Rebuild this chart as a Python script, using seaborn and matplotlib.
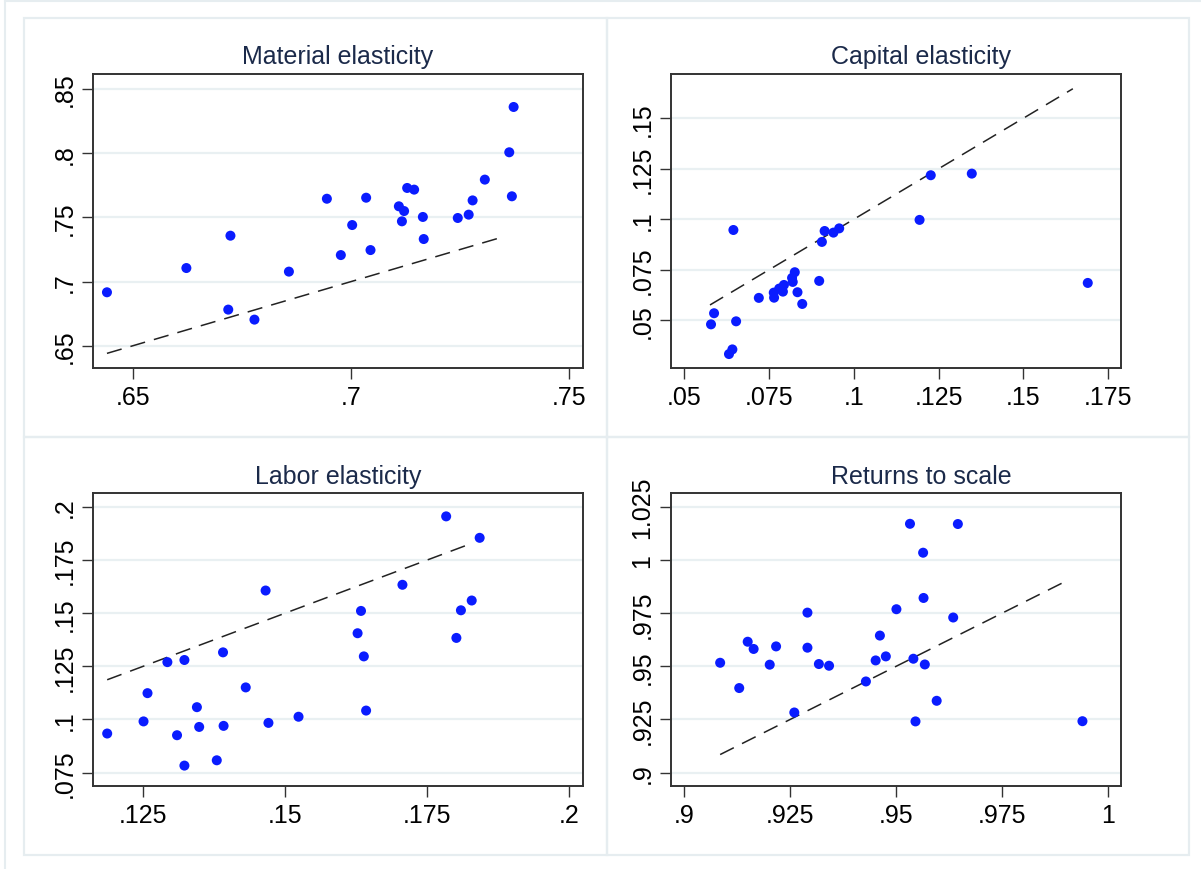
import matplotlib
matplotlib.use("Agg")
import matplotlib.pyplot as plt
from matplotlib.lines import Line2D
from matplotlib.patches import Rectangle
import pandas as pd
import seaborn as sns

# ---- data: estimated (x) vs. reference (y) elasticities by industry ----
material_x = [0.6440, 0.6622, 0.6723, 0.6718, 0.6778, 0.6857, 0.6944, 0.6976, 0.7002,
              0.7034, 0.7044, 0.7109, 0.7121, 0.7116, 0.7128, 0.7144, 0.7164, 0.7166,
              0.7244, 0.7269, 0.7278, 0.7306, 0.7362, 0.7368, 0.7372]
material_y = [0.6916, 0.7105, 0.7357, 0.6781, 0.6703, 0.7077, 0.7645, 0.7206, 0.7440,
              0.7653, 0.7245, 0.7586, 0.7549, 0.7469, 0.7729, 0.7716, 0.7503, 0.7331,
              0.7495, 0.7521, 0.7632, 0.7794, 0.8007, 0.7664, 0.8360]
material_diag = [0.6440, 0.7336]

capital_x = [0.0579, 0.0588, 0.0632, 0.0642, 0.0645, 0.0653, 0.0720, 0.0765, 0.0764,
             0.0780, 0.0791, 0.0794, 0.0818, 0.0820, 0.0826, 0.0834, 0.0848, 0.0898,
             0.0906, 0.0914, 0.0940, 0.0957, 0.1194, 0.1227, 0.1348, 0.1690]
capital_y = [0.0480, 0.0535, 0.0333, 0.0356, 0.0947, 0.0495, 0.0611, 0.0612, 0.0637,
             0.0657, 0.0642, 0.0675, 0.0710, 0.0690, 0.0738, 0.0639, 0.0581, 0.0695,
             0.0888, 0.0942, 0.0934, 0.0955, 0.0997, 0.1218, 0.1226, 0.0685]
capital_diag = [0.0576, 0.1646]

labor_x = [0.1187, 0.1251, 0.1258, 0.1293, 0.1310, 0.1323, 0.1323, 0.1345, 0.1349,
           0.1380, 0.1391, 0.1392, 0.1431, 0.1466, 0.1471, 0.1524, 0.1628, 0.1634,
           0.1639, 0.1643, 0.1707, 0.1784, 0.1802, 0.1810, 0.1829, 0.1843]
labor_y = [0.0934, 0.0991, 0.1124, 0.1270, 0.0926, 0.1280, 0.0783, 0.1058, 0.0965,
           0.0808, 0.1316, 0.0970, 0.1151, 0.1607, 0.0984, 0.1013, 0.1406, 0.1511,
           0.1297, 0.1042, 0.1634, 0.1956, 0.1384, 0.1514, 0.1560, 0.1855]
labor_diag = [0.1187, 0.1818]

rts_x = [0.9085, 0.9130, 0.9150, 0.9164, 0.9202, 0.9217, 0.9260, 0.9291, 0.9291,
         0.9318, 0.9342, 0.9429, 0.9452, 0.9462, 0.9476, 0.9501, 0.9533, 0.9541,
         0.9546, 0.9564, 0.9565, 0.9568, 0.9596, 0.9635, 0.9646, 0.9940]
rts_y = [0.9517, 0.9398, 0.9616, 0.9582, 0.9508, 0.9594, 0.9283, 0.9753, 0.9588,
         0.9511, 0.9503, 0.9429, 0.9528, 0.9645, 0.9547, 0.9769, 1.0171, 0.9536,
         0.9241, 1.0035, 0.9822, 0.9509, 0.9338, 0.9730, 1.0170, 0.9242]
rts_diag = [0.9085, 0.9895]

titles = ["Material elasticity", "Capital elasticity", "Labor elasticity", "Returns to scale"]

material_xticks = [0.65, 0.70, 0.75]
material_xlabels = [".65", ".7", ".75"]
material_yticks = [0.65, 0.70, 0.75, 0.80, 0.85]
material_ylabels = [".65", ".7", ".75", ".8", ".85"]

capital_xticks = [0.05, 0.075, 0.10, 0.125, 0.15, 0.175]
capital_xlabels = [".05", ".075", ".1", ".125", ".15", ".175"]
capital_yticks = [0.05, 0.075, 0.10, 0.125, 0.15]
capital_ylabels = [".05", ".075", ".1", ".125", ".15"]

labor_xticks = [0.125, 0.15, 0.175, 0.20]
labor_xlabels = [".125", ".15", ".175", ".2"]
labor_yticks = [0.075, 0.10, 0.125, 0.15, 0.175, 0.20]
labor_ylabels = [".075", ".1", ".125", ".15", ".175", ".2"]

rts_xticks = [0.90, 0.925, 0.95, 0.975, 1.0]
rts_xlabels = [".9", ".925", ".95", ".975", "1"]
rts_yticks = [0.90, 0.925, 0.95, 0.975, 1.0, 1.025]
rts_ylabels = [".9", ".925", ".95", ".975", "1", "1.025"]

# ---- style ----
sns.set_theme(style="white")
plt.rcParams["font.family"] = ["Liberation Sans", "DejaVu Sans"]

W, H = 1201, 870
fig = plt.figure(figsize=(W / 100, H / 100), dpi=100)
fig.patch.set_facecolor("white")

FRAME = "#e6edf0"
GRID = "#e9f0f2"
DOT = "#0a1cff"
TITLE = "#1b2a4a"


def px_rect(l, t, r, b):
    return [l / W, 1 - b / H, (r - l) / W, (b - t) / H]


# light outlines of the graph regions
fig.add_artist(Line2D([5 / W, 5 / W], [0, 1], color=FRAME, lw=1.5, transform=fig.transFigure))
fig.add_artist(Line2D([5 / W, 1], [1 - 1.5 / H, 1 - 1.5 / H], color=FRAME, lw=1.5,
                      transform=fig.transFigure))
for (l, t, r, b) in [(24, 19, 607, 438), (607, 19, 1189, 438),
                     (24, 438, 607, 856), (607, 438, 1189, 856)]:
    fig.add_artist(Rectangle((l / W, 1 - b / H), (r - l) / W, (b - t) / H,
                             fill=False, edgecolor=FRAME, lw=1.6,
                             transform=fig.transFigure))

panels = [
    (material_x, material_y, material_diag, material_xticks, material_xlabels,
     material_yticks, material_ylabels, (0.6408, 0.7531), (0.6326, 0.8617),
     (93, 75, 583, 369), (338, 57)),
    (capital_x, capital_y, capital_diag, capital_xticks, capital_xlabels,
     capital_yticks, capital_ylabels, (0.0461, 0.1788), (0.0264, 0.1719),
     (671, 75, 1121, 369), (921, 57)),
    (labor_x, labor_y, labor_diag, labor_xticks, labor_xlabels,
     labor_yticks, labor_ylabels, (0.1162, 0.2025), (0.0687, 0.2066),
     (93, 494, 583, 787), (338, 477)),
    (rts_x, rts_y, rts_diag, rts_xticks, rts_xlabels,
     rts_yticks, rts_ylabels, (0.8969, 1.0031), (0.8937, 1.0316),
     (671, 494, 1121, 787), (921, 477)),
]

for title, (xs, ys, diag, xt, xl, yt, yl, xlim, ylim, box, tpos) in zip(titles, panels):
    ax = fig.add_axes(px_rect(*box))
    ax.set_facecolor("white")
    for yv in yt:
        ax.axhline(yv, color=GRID, lw=1.6, zorder=0)

    # 45-degree reference line
    ref = pd.DataFrame({"x": diag, "y": diag})
    sns.lineplot(data=ref, x="x", y="y", ax=ax, color="#222222", lw=1.1, zorder=2)
    ax.lines[-1].set_linestyle((0, (10, 6)))

    df = pd.DataFrame({"x": xs, "y": ys})
    sns.scatterplot(data=df, x="x", y="y", ax=ax, color=DOT, s=52,
                    edgecolor="none", linewidth=0, zorder=3)

    ax.set_xlim(*xlim)
    ax.set_ylim(*ylim)
    ax.set_xticks(xt)
    ax.set_xticklabels(xl)
    ax.set_yticks(yt)
    ax.set_yticklabels(yl, rotation=90, va="center")
    ax.set_xlabel("")
    ax.set_ylabel("")
    ax.tick_params(axis="both", which="major", direction="out", length=8, width=1,
                   color="#333333", labelsize=18, labelcolor="black", pad=4,
                   bottom=True, left=True)
    for sp in ax.spines.values():
        sp.set_visible(True)
        sp.set_color("#333333")
        sp.set_linewidth(1.4)
    ax.grid(False)

    fig.text(tpos[0] / W, 1 - tpos[1] / H, title, ha="center", va="center",
             fontsize=18, color=TITLE)

fig.savefig("out.png", dpi=100, facecolor="white")
